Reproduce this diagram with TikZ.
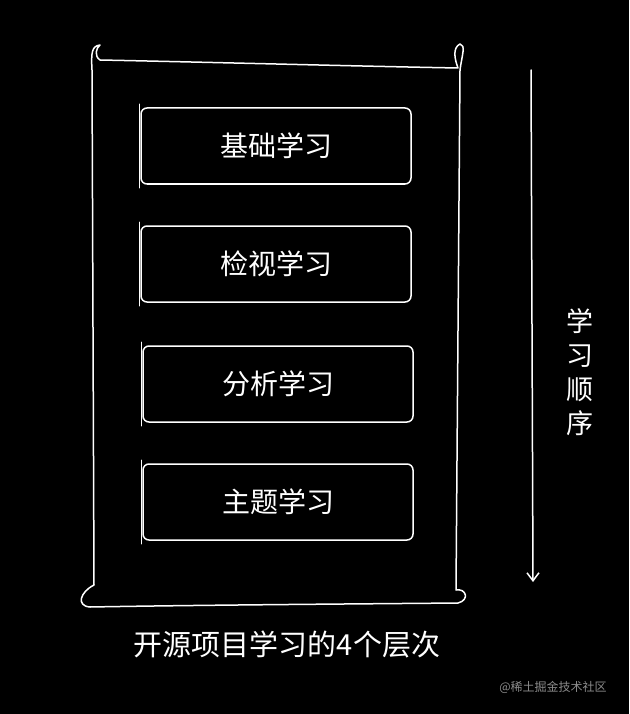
\documentclass[tikz,border=0pt]{standalone}
\usepackage{fontspec}
\newfontfamily\cjk{Noto Sans CJK SC}
\usetikzlibrary{arrows.meta}
\begin{document}
\begin{tikzpicture}[x=1pt,y=-1pt,
  hand/.style={draw=white,line width=1.5pt,line cap=round,line join=round},
  lbl/.style={text=white,font=\cjk\fontsize{28}{28}\selectfont},
  layer/.style={hand,minimum width=270pt,minimum height=76pt,rounded corners=6pt}]
\fill[black] (0,0) rectangle (629,714);
\useasboundingbox (0,0) rectangle (629,714);
% outer frame
\draw[hand] (100,45) .. controls (92,46) and (91,52) .. (92,70)
  -- (94,585) .. controls (80,592) and (76,606) .. (90,607)
  .. controls (200,605) and (350,604) .. (458,603)
  .. controls (470,600) and (466,588) .. (456,590)
  -- (460,70) .. controls (462,55) and (466,45) .. (460,44)
  .. controls (452,48) and (455,60) .. (458,68)
  .. controls (350,66) and (200,62) .. (100,60)
  .. controls (94,56) and (96,48) .. (100,45);
% layers
\node[layer,lbl] (a) at (276,146) {基础学习};
\node[layer,lbl] (b) at (276,264) {检视学习};
\node[layer,lbl] (c) at (278,384) {分析学习};
\node[layer,lbl] (d) at (278,502) {主题学习};
\foreach \n in {a,b,c,d}{\draw[hand] ([xshift=-1pt,yshift=3pt]\n.north west) -- ([xshift=-1pt,yshift=-3pt]\n.south west);}
% arrow
\coordinate (s) at (531,70);
\coordinate (e) at (533,582);
\draw[hand,-{Straight Barb[length=8pt,width=12pt]}] (s) -- (e);
\node[lbl,align=center,font=\cjk\fontsize{27}{34}\selectfont] (v) at (580,372) {学\\习\\顺\\序};
\node[lbl,font=\cjk\fontsize{29}{29}\selectfont] (cap) at (287,644) {开源项目学习的4个层次};
\node[text=black!45,font=\cjk\fontsize{12}{12}\selectfont] (w) at (553,687) {@稀土掘金技术社区};
\end{tikzpicture}
\end{document}
